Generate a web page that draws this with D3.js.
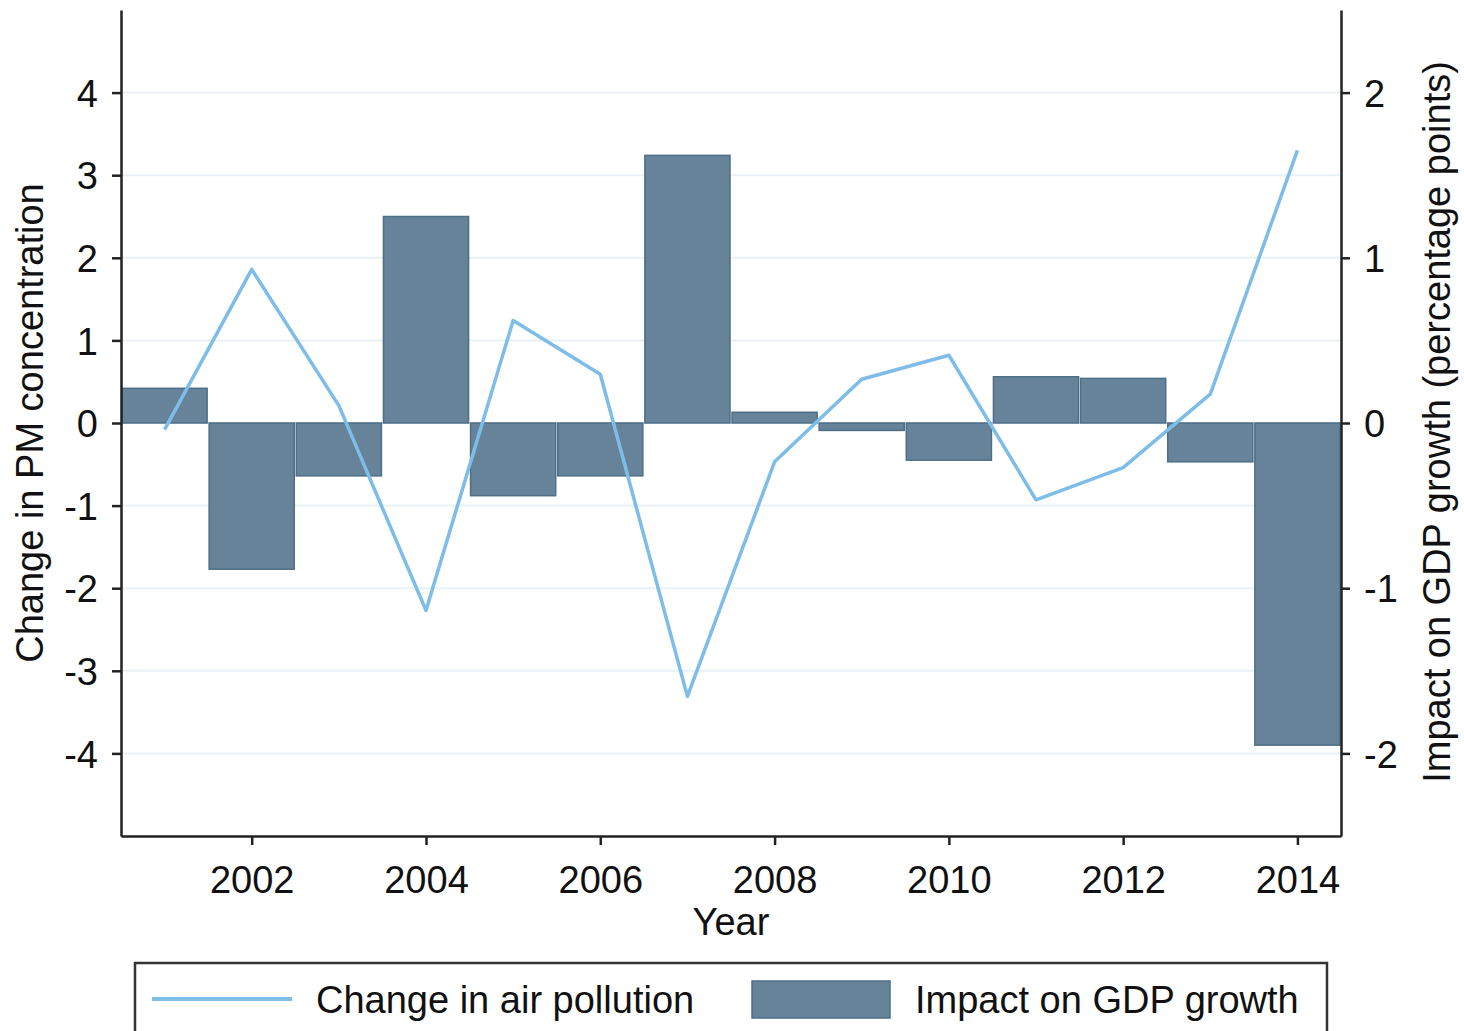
<!DOCTYPE html>
<html>
<head>
<meta charset="utf-8">
<script src="https://cdn.jsdelivr.net/npm/d3@7"></script>
<style>
  html, body { margin: 0; padding: 0; background: #fff; }
  svg { display: block; font-family: "Liberation Sans", Arial, sans-serif; }
</style>
</head>
<body>
<svg id="chart" width="1464" height="1031"></svg>
<script>
// Years and the two series
const years = [2001, 2002, 2003, 2004, 2005, 2006, 2007, 2008, 2009, 2010, 2011, 2012, 2013, 2014];
// Change in PM concentration (left axis)
const pollution = [-0.08, 1.86, 0.21, -2.27, 1.24, 0.59, -3.31, -0.47, 0.53, 0.82, -0.93, -0.54, 0.35, 3.30];
// Impact on GDP growth, percentage points (right axis)
const gdpImpact = [0.21, -0.885, -0.32, 1.25, -0.44, -0.32, 1.62, 0.065, -0.045, -0.225, 0.28, 0.27, -0.235, -1.95];

const leftTicks = [-4, -3, -2, -1, 0, 1, 2, 3, 4];
const rightTicks = [-2, -1, 0, 1, 2];
const xTicks = [2002, 2004, 2006, 2008, 2010, 2012, 2014];

const svg = d3.select("#chart");
const plot = { left: 121, right: 1341, top: 10, bottom: 836 };

const x = d3.scaleLinear().domain([2000.5, 2014.5]).range([plot.left, plot.right]);
const yL = d3.scaleLinear().domain([-5, 5]).range([plot.bottom, plot.top]);
const yR = d3.scaleLinear().domain([-2.5, 2.5]).range([plot.bottom, plot.top]);

const FS = 38;
const lineColor = "#7dbde8";
const barFill = "#668399";
const barStroke = "#4e6f87";
// Plain hyphen for negative numbers
const fmt = d => String(d);

// Horizontal gridlines at the left-axis ticks
svg.append("g")
  .selectAll("line")
  .data(leftTicks)
  .join("line")
  .attr("x1", plot.left).attr("x2", plot.right)
  .attr("y1", d => yL(d)).attr("y2", d => yL(d))
  .attr("stroke", "#e9f1f4").attr("stroke-width", 2);

// Bars: one year wide, measured against the right axis
svg.append("g")
  .selectAll("rect")
  .data(years.map((yr, i) => ({ yr, v: gdpImpact[i] })))
  .join("rect")
  .attr("x", d => x(d.yr - 0.5) + 1)
  .attr("width", d => x(d.yr + 0.5) - x(d.yr - 0.5) - 2)
  .attr("y", d => Math.min(yR(d.v), yR(0)))
  .attr("height", d => Math.abs(yR(d.v) - yR(0)))
  .attr("fill", barFill)
  .attr("stroke", barStroke)
  .attr("stroke-width", 1.5);

// Pollution line against the left axis
const line = d3.line().x((d, i) => x(years[i])).y(d => yL(d));
svg.append("path")
  .datum(pollution)
  .attr("d", line)
  .attr("fill", "none")
  .attr("stroke", lineColor)
  .attr("stroke-width", 3.5)
  .attr("stroke-linejoin", "round");

// Axes
const axisStyle = g => {
  g.select(".domain").attr("stroke", "#222").attr("stroke-width", 2.5);
  g.selectAll(".tick line").attr("stroke", "#222").attr("stroke-width", 2.5);
  g.selectAll(".tick text").attr("fill", "#111").style("font-size", FS + "px")
    .style("font-family", "'Liberation Sans', Arial, sans-serif");
};

svg.append("g")
  .attr("transform", `translate(${plot.left},0)`)
  .call(d3.axisLeft(yL).tickValues(leftTicks).tickSize(9).tickPadding(14).tickSizeOuter(0).tickFormat(fmt))
  .call(axisStyle)
  .call(g => g.selectAll(".tick text").attr("dy", "0.36em"));

svg.append("g")
  .attr("transform", `translate(${plot.right},0)`)
  .call(d3.axisRight(yR).tickValues(rightTicks).tickSize(9).tickPadding(14).tickSizeOuter(0).tickFormat(fmt))
  .call(axisStyle)
  .call(g => g.selectAll(".tick text").attr("dy", "0.36em"));

svg.append("g")
  .attr("transform", `translate(0,${plot.bottom})`)
  .call(d3.axisBottom(x).tickValues(xTicks).tickSize(9).tickPadding(21).tickSizeOuter(0).tickFormat(fmt))
  .call(axisStyle);

// Axis titles
svg.append("text")
  .attr("transform", `translate(43,423) rotate(-90)`)
  .attr("text-anchor", "middle")
  .style("font-size", FS + "px").attr("fill", "#111")
  .text("Change in PM concentration");

svg.append("text")
  .attr("transform", `translate(1450,422) rotate(-90)`)
  .attr("text-anchor", "middle")
  .style("font-size", FS + "px").attr("fill", "#111")
  .text("Impact on GDP growth (percentage points)");

svg.append("text")
  .attr("x", 731).attr("y", 935)
  .attr("text-anchor", "middle")
  .style("font-size", FS + "px").attr("fill", "#111")
  .text("Year");

// Legend
const legend = svg.append("g");
legend.append("rect")
  .attr("x", 135).attr("y", 963).attr("width", 1192).attr("height", 100)
  .attr("fill", "#fff").attr("stroke", "#333").attr("stroke-width", 2.5);
legend.append("line")
  .attr("x1", 152).attr("x2", 292).attr("y1", 999).attr("y2", 999)
  .attr("stroke", lineColor).attr("stroke-width", 4);
legend.append("text")
  .attr("x", 316).attr("y", 1013)
  .style("font-size", FS + "px").attr("fill", "#111")
  .text("Change in air pollution");
legend.append("rect")
  .attr("x", 752).attr("y", 981).attr("width", 138).attr("height", 37)
  .attr("fill", barFill).attr("stroke", barStroke).attr("stroke-width", 1.5);
legend.append("text")
  .attr("x", 915).attr("y", 1013)
  .style("font-size", FS + "px").attr("fill", "#111")
  .text("Impact on GDP growth");
</script>
</body>
</html>
